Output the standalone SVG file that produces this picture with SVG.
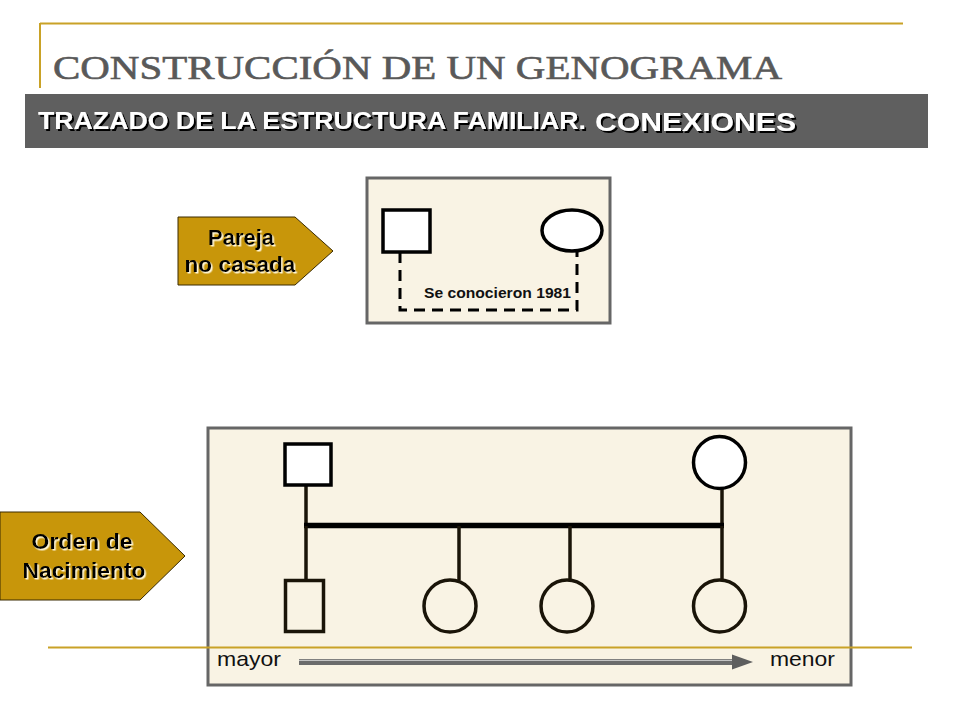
<svg xmlns="http://www.w3.org/2000/svg" width="960" height="720" viewBox="0 0 960 720">
<defs>
<filter id="shDark" x="-5%" y="-20%" width="110%" height="150%">
<feDropShadow dx="2" dy="2" stdDeviation="0.5" flood-color="#000000" flood-opacity="1"/>
</filter>
<filter id="shLight" x="-5%" y="-20%" width="110%" height="150%">
<feDropShadow dx="1.5" dy="1.5" stdDeviation="0.3" flood-color="#fff6d8" flood-opacity="1"/>
</filter>
<style>
.gold{stroke:#c9a227;stroke-width:2;fill:none}
.frame{fill:#f9f3e4;stroke:#666666;stroke-width:3}
.tag{fill:#c8960a;stroke:#3a2a00;stroke-width:1}
.tagtxt{font-family:"Liberation Sans",Arial,sans-serif;font-weight:bold;font-size:22px;text-anchor:middle;fill:#000000}
.band{font-family:"Liberation Sans",Arial,sans-serif;font-weight:bold;fill:#ffffff}
.sym{fill:#ffffff;stroke:#000000;stroke-width:3.5}
.kid{fill:none;stroke:#1a1408;stroke-width:3.5}
.conn{stroke:#1a1408;stroke-width:3.5;fill:none}
.lbl{font-family:"Liberation Sans",Arial,sans-serif;font-size:21px;fill:#111111}
</style>
</defs>
<rect width="960" height="720" fill="#ffffff"/>

<g id="header">
<line class="gold" x1="40" y1="23.5" x2="903" y2="23.5"/>
<line class="gold" x1="40" y1="23" x2="40" y2="88"/>
<text x="53" y="79" font-family="'Liberation Serif','Times New Roman',serif" font-size="34" fill="#595959" stroke="#595959" stroke-width="0.6" textLength="729" lengthAdjust="spacingAndGlyphs">CONSTRUCCIÓN DE UN GENOGRAMA</text>
<rect x="25" y="94" width="903" height="54" fill="#5f5f5f"/>
<g class="band" filter="url(#shDark)">
<text x="38" y="129" font-size="23.5" textLength="548" lengthAdjust="spacingAndGlyphs">TRAZADO DE LA ESTRUCTURA FAMILIAR.</text>
<text x="595" y="131" font-size="26.5" textLength="201" lengthAdjust="spacingAndGlyphs">CONEXIONES</text>
</g>
</g>

<g id="tag-pareja">
<polygon class="tag" points="178,217 295,217 333,251 295,285 178,285"/>
<g class="tagtxt" filter="url(#shLight)">
<text x="241" y="245" textLength="66" lengthAdjust="spacingAndGlyphs">Pareja</text>
<text x="240" y="272" textLength="111" lengthAdjust="spacingAndGlyphs">no casada</text>
</g>
</g>

<g id="frame-pareja">
<rect class="frame" x="367" y="178" width="243" height="145"/>
</g>
<g id="hombre-pareja">
<rect class="sym" x="383" y="210" width="47" height="42"/>
</g>
<g id="mujer-pareja">
<ellipse class="sym" cx="572" cy="230.5" rx="30" ry="20.5"/>
</g>

<g id="tag-orden">
<polygon class="tag" points="0,512 140,512 185,556 140,600 0,600"/>
<g class="tagtxt" filter="url(#shLight)">
<text x="82" y="549" textLength="101" lengthAdjust="spacingAndGlyphs">Orden de</text>
<text x="84" y="578" textLength="123" lengthAdjust="spacingAndGlyphs">Nacimiento</text>
</g>
</g>

<g id="frame-orden">
<rect class="frame" x="208" y="428" width="643" height="257"/>
</g>

<g id="connectors">
<polyline points="400,252 400,310 577,310 577,252" fill="none" stroke="#000000" stroke-width="3" stroke-dasharray="11 7"/>
<line class="conn" x1="306" y1="486" x2="306" y2="526"/>
<line class="conn" x1="722" y1="489" x2="722" y2="526"/>
<line x1="304" y1="525.5" x2="724" y2="525.5" stroke="#000000" stroke-width="5.5"/>
<line class="conn" x1="306" y1="526" x2="306" y2="579"/>
<line class="conn" x1="459" y1="526" x2="459" y2="580"/>
<line class="conn" x1="570" y1="526" x2="570" y2="580"/>
<line class="conn" x1="722" y1="526" x2="722" y2="580"/>
</g>

<g id="padre">
<rect class="sym" x="285" y="444" width="46" height="41"/>
</g>
<g id="madre">
<circle class="sym" cx="719.5" cy="462.5" r="26"/>
</g>
<g id="hijo-1">
<rect class="kid" x="285.5" y="580.5" width="38" height="51"/>
</g>
<g id="hija-2">
<circle class="kid" cx="450" cy="606" r="26"/>
</g>
<g id="hija-3">
<circle class="kid" cx="567" cy="606" r="26"/>
</g>
<g id="hija-4">
<circle class="kid" cx="719.5" cy="606" r="26"/>
</g>

<g id="footer-line">
<line class="gold" x1="48" y1="647.5" x2="912" y2="647.5"/>
</g>

<g id="arrow-orden">
<line x1="299" y1="662" x2="736" y2="662" stroke="#6b6b6b" stroke-width="6"/>
<line x1="299" y1="660.3" x2="736" y2="660.3" stroke="#c4c4c4" stroke-width="1.3"/>
<polygon points="732,654.5 753,662 732,669.5" fill="#5e5e5e"/>
</g>
<g id="label-mayor">
<text class="lbl" x="217" y="666" textLength="64" lengthAdjust="spacingAndGlyphs">mayor</text>
</g>
<g id="label-menor">
<text class="lbl" x="770" y="666" textLength="65" lengthAdjust="spacingAndGlyphs">menor</text>
</g>
<g id="label-conocieron">
<text x="424" y="298" font-family="'Liberation Sans',Arial,sans-serif" font-weight="bold" font-size="15" fill="#111111" textLength="147" lengthAdjust="spacingAndGlyphs">Se conocieron 1981</text>
</g>
</svg>
